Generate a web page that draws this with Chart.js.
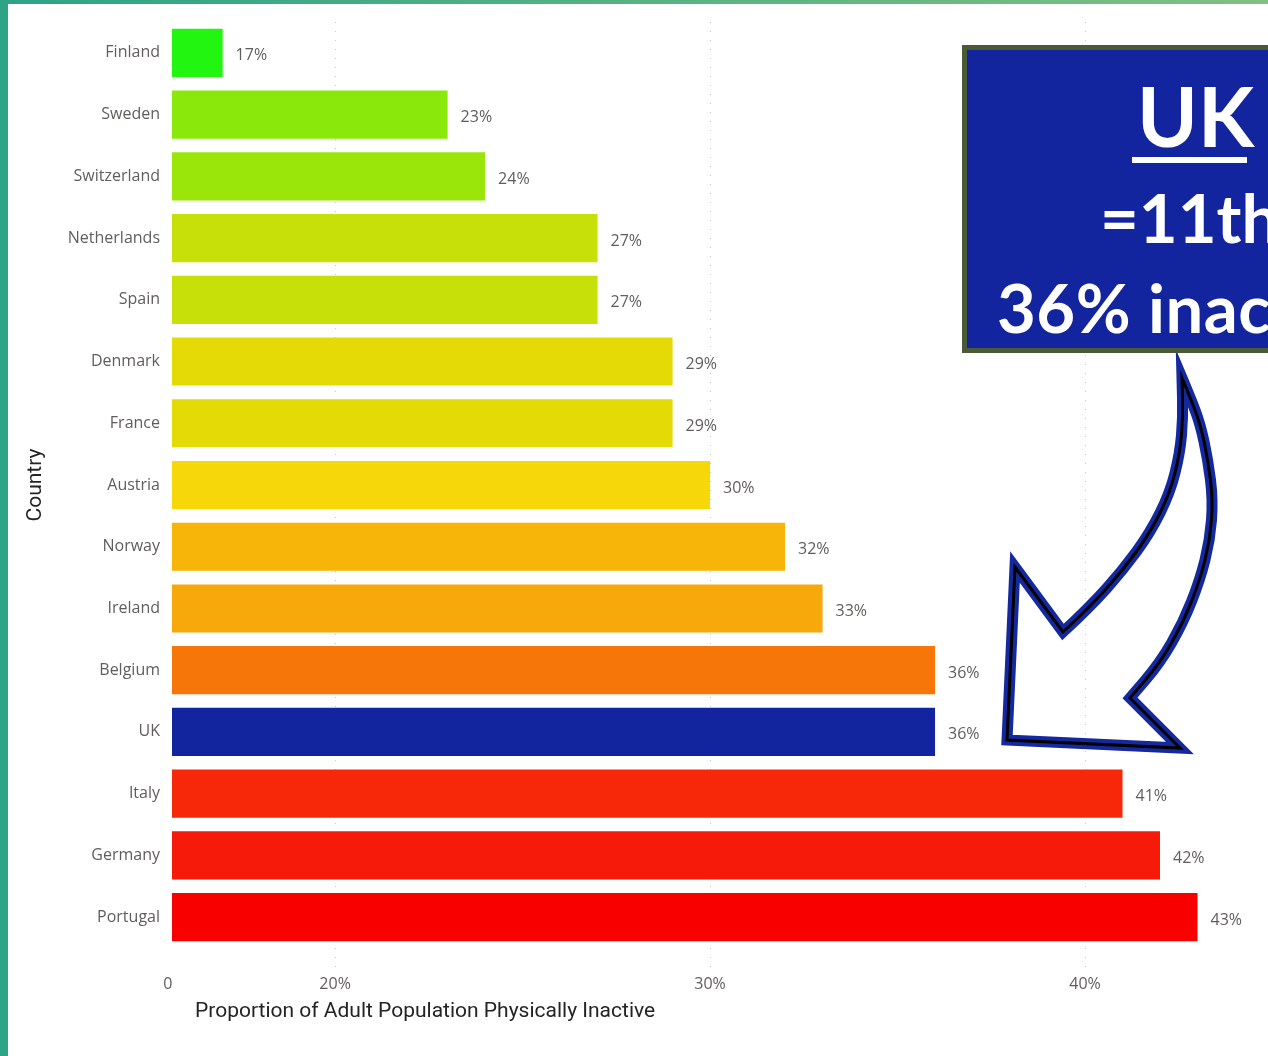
<!DOCTYPE html>
<html>
<head>
<meta charset="utf-8">
<title>Physical inactivity in Europe</title>
<script src="https://cdn.jsdelivr.net/npm/chart.js@4.4.1/dist/chart.umd.min.js"></script>
<style>
  html, body { margin: 0; padding: 0; background: #fff; }
  #page { position: relative; width: 1268px; height: 1056px; overflow: hidden; }
  #edgeLeft { position: absolute; left: 0; top: 0; width: 8px; height: 1056px; background: #2ea386; }
  #edgeTop { position: absolute; left: 0; top: 0; width: 1268px; height: 4px; background: linear-gradient(to right, #2ea386, #80c081); }
  #callout {
    position: absolute; left: 962px; top: 45px; width: 420px; height: 298px;
    background: #13249f; border: 5px solid #4b5a36;
    color: #fff; font-family: Lato, "Open Sans", sans-serif; font-weight: bold;
  }
  #callout span { position: absolute; white-space: nowrap; line-height: 1; }
  #uk { left: 170px; top: 24px; font-size: 82px; }
  #ukLine { position: absolute; left: 165px; top: 107px; width: 115px; height: 6px; background: #fff; }
  #rank { left: 133px; top: 134px; font-size: 67px; }
  #share { left: 30px; top: 224px; font-size: 67px; letter-spacing: 0.5px; }
</style>
</head>
<body>
<div id="page">
  <canvas id="inactiveChart" width="1268" height="1056"></canvas>
  <div id="edgeLeft"></div>
  <div id="edgeTop"></div>
  <div id="callout">
    <span id="uk">UK</span>
    <div id="ukLine"></div>
    <span id="rank">=11th</span>
    <span id="share">36% inactive</span>
  </div>
</div>
<script>
// data
const countries = ['Finland', 'Sweden', 'Switzerland', 'Netherlands', 'Spain', 'Denmark', 'France',
  'Austria', 'Norway', 'Ireland', 'Belgium', 'UK', 'Italy', 'Germany', 'Portugal'];
const inactive = [17, 23, 24, 27, 27, 29, 29, 30, 32, 33, 36, 36, 41, 42, 43];
const barColours = ['#22f50f', '#8ae80b', '#9ae60b', '#c8e00a', '#c8e00a', '#e4da06', '#e4da06',
  '#f6d70a', '#f7b50a', '#f7a80a', '#f7760a', '#13249f', '#f7270a', '#f61a0a', '#f90000'];
const tickValues = [20, 30, 40];
const axisStart = 15.65;
const axisEnd = 44.88;

const textGrey = '#605e5c';
Chart.defaults.font.family = "'Open Sans', sans-serif";

// value labels at the end of each bar
const valueLabels = {
  id: 'valueLabels',
  afterDatasetsDraw(chart) {
    const ctx = chart.ctx;
    const meta = chart.getDatasetMeta(0);
    ctx.save();
    ctx.font = "16px 'Open Sans', sans-serif";
    ctx.fillStyle = textGrey;
    ctx.textAlign = 'left';
    ctx.textBaseline = 'middle';
    meta.data.forEach((bar, i) => {
      ctx.fillText(inactive[i] + '%', bar.x + 13, bar.y + 3);
    });
    ctx.restore();
  }
};

// x axis title sits left of centre, like the original report
const xTitle = {
  id: 'xTitle',
  afterDraw(chart) {
    const ctx = chart.ctx;
    ctx.save();
    ctx.font = "21px Roboto, sans-serif";
    ctx.fillStyle = '#252423';
    ctx.textAlign = 'left';
    ctx.textBaseline = 'middle';
    ctx.fillText('Proportion of Adult Population Physically Inactive', chart.chartArea.left + 23, 1012);
    ctx.restore();
  }
};

// hollow curved arrow pointing at the UK bar
function smoothThrough(ctx, pts) {
  for (let i = 0; i < pts.length - 1; i++) {
    const mx = (pts[i][0] + pts[i + 1][0]) / 2;
    const my = (pts[i][1] + pts[i + 1][1]) / 2;
    ctx.quadraticCurveTo(pts[i][0], pts[i][1], mx, my);
  }
  const last = pts[pts.length - 1];
  ctx.lineTo(last[0], last[1]);
}

const arrow = {
  id: 'arrow',
  afterDraw(chart) {
    const ctx = chart.ctx;
    const outer = [[1190, 397], [1200, 423], [1208, 460], [1213, 500], [1210, 540], [1200, 580],
      [1183, 623], [1160, 663], [1130, 698]];
    const inner = [[1090, 607], [1123, 570], [1150, 533], [1170, 493], [1180, 453], [1183, 417], [1182, 378]];
    const path = () => {
      ctx.beginPath();
      ctx.moveTo(1182, 378);
      smoothThrough(ctx, outer);
      ctx.lineTo(1180, 748);
      ctx.lineTo(1007, 740);
      ctx.lineTo(1015, 567);
      ctx.lineTo(1063, 632);
      smoothThrough(ctx, inner);
      ctx.closePath();
    };
    ctx.save();
    ctx.lineJoin = 'miter';
    path();
    ctx.strokeStyle = '#1428a0';
    ctx.lineWidth = 11;
    ctx.stroke();
    ctx.strokeStyle = '#000';
    ctx.lineWidth = 3;
    ctx.stroke();
    ctx.restore();
  }
};

new Chart('inactiveChart', {
  type: 'bar',
  data: {
    labels: countries,
    datasets: [{
      data: inactive,
      backgroundColor: barColours,
      borderWidth: 0,
      barPercentage: 0.78,
      categoryPercentage: 1
    }]
  },
  options: {
    responsive: false,
    animation: false,
    indexAxis: 'y',
    layout: { padding: { top: 22, left: 0, right: 0, bottom: 0 } },
    plugins: {
      legend: { display: false },
      tooltip: { enabled: false }
    },
    scales: {
      x: {
        min: axisStart,
        max: axisEnd,
        afterBuildTicks: (scale) => {
          scale.ticks = [axisStart].concat(tickValues).map(v => ({ value: v }));
        },
        afterFit: (scale) => { scale.height = 108; },
        ticks: {
          autoSkip: false,
          maxRotation: 0,
          padding: 8,
          color: textGrey,
          font: { size: 16 },
          callback: (v) => v === axisStart ? '0  ' : v + '%'
        },
        grid: {
          color: (c) => c.tick && c.tick.value === axisStart ? 'rgba(0,0,0,0)' : '#c8c6c4',
          tickColor: (c) => c.tick && c.tick.value === axisStart ? 'rgba(0,0,0,0)' : '#c8c6c4',
          tickLength: 19,
          tickBorderDash: [1, 8],
          lineWidth: 1
        },
        border: { display: false, dash: [1, 8] }
      },
      y: {
        afterFit: (scale) => { scale.width = 172; },
        ticks: {
          padding: 12,
          color: textGrey,
          font: { size: 16 }
        },
        grid: { display: false, drawTicks: false },
        border: { display: false },
        title: {
          display: true,
          text: 'Country',
          color: '#252423',
          font: { family: 'Roboto, sans-serif', size: 21 },
          padding: { top: 23, bottom: 0 }
        }
      }
    }
  },
  plugins: [valueLabels, xTitle, arrow]
});
</script>
</body>
</html>
